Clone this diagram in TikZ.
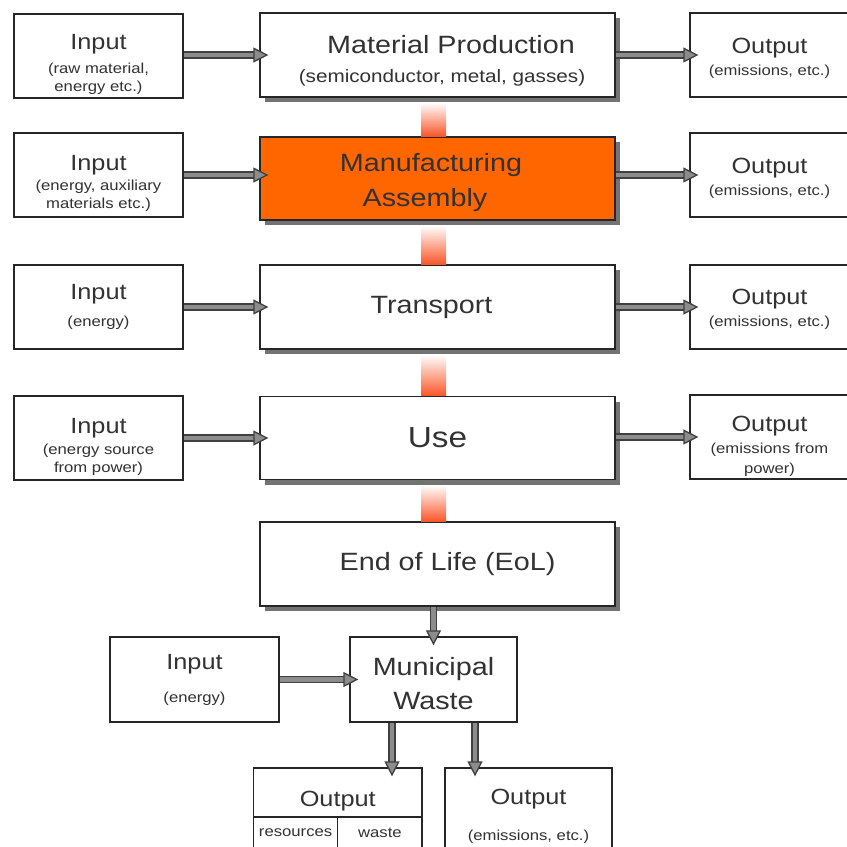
\documentclass[tikz,border=0pt]{standalone}
\usepackage{fontspec}
\setmainfont{Liberation Sans}[FakeStretch=1.15]
\usetikzlibrary{arrows.meta,shadows,calc}
\definecolor{mfgorange}{RGB}{255,102,0}
\definecolor{barorange}{RGB}{250,85,40}
\definecolor{txt}{RGB}{50,50,50}
\newcommand\fhd{\fontsize{22}{24}\selectfont}
\newcommand\fsm{\fontsize{14.5}{18}\selectfont}
\newcommand\fmid{\fontsize{18}{21}\selectfont}
\newcommand\fttl{\fontsize{25}{28}\selectfont}
\newcommand\lift[1]{\rule{0pt}{#1pt}}
\begin{document}
\begin{tikzpicture}[x=1pt,y=1pt,
  box/.style={draw=black!85, line width=1.2pt, fill=white, inner sep=0pt,
    align=center, text=txt, font=\fsm},
  io/.style={box, minimum width=169pt, minimum height=84pt},
  outbox/.style={box, minimum width=159pt, minimum height=84pt},
  stage/.style={box, minimum width=355pt, minimum height=84pt,
    drop shadow={shadow xshift=5pt, shadow yshift=-5pt, fill=black!55, opacity=1}},
  flow/.style={draw=black!75, line width=1.3pt, double=black!45,
    double distance=4.5pt, -{Triangle[length=15pt,width=15pt,fill=black!45]},
    shorten >=-9pt},
  bar/.style={top color=white, bottom color=barorange}]
  \useasboundingbox (0,0) rectangle (847,-847);
  \node[io] (in1) at (98.5,-56) {\fhd\lift{32}Input\\[6pt]\fsm (raw material,\\\fsm energy etc.)};
  \node[stage] (mp) at (437.5,-55)
    {\fttl\lift{30}\hspace*{27pt}Material Production\\[11pt]\fmid\hspace*{9pt}(semiconductor, metal, gasses)};
  \node[outbox] (out1) at (769.5,-55) {\fhd\lift{22}Output\\[4pt]\fsm (emissions, etc.)};
  \node[io] (in2) at (98.5,-175) {\fhd\lift{32}Input\\[2pt]\fsm (energy, auxiliary\\\fsm materials etc.)};
  \node[stage, minimum height=83pt, fill=mfgorange] (mfg) at (437.5,-178.5)
    {\fttl\lift{26}\hspace*{-13pt}Manufacturing\\[10pt]\fttl\hspace*{-25pt}Assembly};
  \node[outbox] (out2) at (769.5,-175) {\fhd\lift{22}Output\\[4pt]\fsm (emissions, etc.)};
  \node[io] (in3) at (98.5,-307) {\fhd Input\\[9pt]\fsm (energy)};
  \node[stage] (tr) at (437.5,-307) {\fttl\hspace*{-12pt}Transport};
  \node[outbox] (out3) at (769.5,-307) {\fhd\lift{20}Output\\[4pt]\fsm (emissions, etc.)};
  \node[io] (in4) at (98.5,-438) {\fhd\lift{32}Input\\[3pt]\fsm (energy source\\\fsm from power)};
  \node[stage, minimum height=83pt] (use) at (437.5,-438)
    {\fontsize{29}{32}\selectfont Use};
  \node[outbox] (out4) at (769.5,-437) {\fhd\lift{34}Output\\[4pt]\fsm (emissions from\\[2pt]\fsm power)};
  \node[stage] (eol) at (437.5,-564) {\fttl\hspace*{20pt}End of Life (EoL)};
  \node[box, minimum width=167pt, minimum height=85pt] (mw) at (433.5,-679.5)
    {\fttl\lift{26}Municipal\\[11pt]\fttl Waste};
  \node[io, minimum height=85pt] (in5) at (194.5,-679.5) {\fhd Input\\[15pt]\fsm (energy)};
  \node[box, minimum width=168.5pt, minimum height=49pt] (outl) at (337.75,-792.5)
    {\fhd\lift{32}Output};
  \node[box, minimum width=84.25pt, minimum height=32pt] (res) at (295.6,-833) {resources};
  \node[box, minimum width=84.25pt, minimum height=32pt] (wst) at (379.9,-833) {waste};
  \node[box, minimum width=167pt, minimum height=96pt] (outr) at (528.5,-816)
    {\fhd Output\\[18pt]\fsm (emissions, etc.)};
  \coordinate (col) at (433.5,0);
  \foreach \a/\b in {mp/mfg,mfg/tr,tr/use,use/eol}
    \shade[bar] ($(col |- \a.south)+(-12.5,-5)$) rectangle ($(col |- \b.north)+(12.5,0)$);
  \draw[flow] (in1.east |- mp.west) -- (mp.west);
  \draw[flow] (in2.east) -- (in2.east -| mfg.west);
  \draw[flow] (in3.east) -- (in3.east -| tr.west);
  \draw[flow] (in4.east) -- (in4.east -| use.west);
  \draw[flow] (mp.east |- out1.west) -- (out1.west);
  \draw[flow] (mfg.east |- out2.west) -- (out2.west);
  \draw[flow] (tr.east |- out3.west) -- (out3.west);
  \draw[flow] (use.east |- out4.west) -- (out4.west);
  \draw[flow] (mw.north |- eol.south) -- (mw.north);
  \draw[flow] (in5.east) -- (mw.west);
  \coordinate (wl) at ($(mw.south)+(-41.5,0)$);
  \coordinate (wr) at ($(mw.south)+(41.5,0)$);
  \draw[flow] (wl) -- (wl |- outl.north);
  \draw[flow] (wr) -- (wr |- outr.north);
\end{tikzpicture}
\end{document}
